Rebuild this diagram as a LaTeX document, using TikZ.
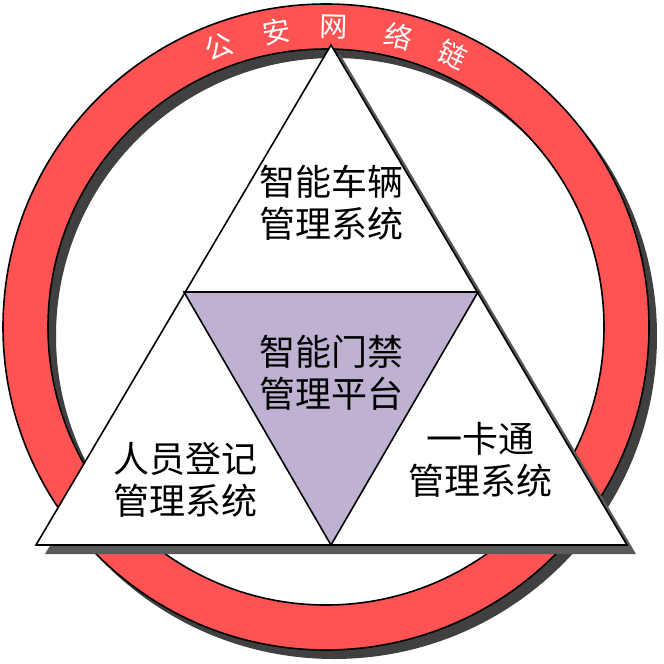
\documentclass[tikz,border=0pt]{standalone}
\usepackage{fontspec}
\newfontfamily\cjk{Noto Sans CJK SC}
\usetikzlibrary{calc}
\definecolor{ringRed}{HTML}{FF5252}
\definecolor{ringShd}{HTML}{404040}
\definecolor{triShd}{HTML}{5A5A5A}
\definecolor{hubLav}{HTML}{BFB1D1}
\tikzset{
  % red outer ring and its drop shadow
  ring/.style={fill=ringRed, draw=black, line width=1.6pt, even odd rule},
  ringshadow/.style={fill=ringShd, even odd rule},
  % big triangle, its shadow and the central hub
  tri/.style={fill=white, draw=black, line width=1.6pt, line join=miter},
  trishadow/.style={fill=triShd},
  hub/.style={fill=hubLav, draw=black, line width=1.6pt, line join=miter},
  % texts
  lbl/.style={font=\cjk\fontsize{36}{42}\selectfont, align=center, inner sep=0pt},
  arctxt/.style={font=\cjk\fontsize{28}{28}\selectfont, text=white, inner sep=0pt},
}

\begin{document}
\begin{tikzpicture}[x=1pt, y=-1pt]
\useasboundingbox (0,0) rectangle (664,664);

% =====================================================================
% RING  (shadow first, then the red band)
% =====================================================================
\coordinate (ctr) at (326,327);
\coordinate (ctrS) at (334,336);

\path[ringshadow] (ctrS) circle[radius=323pt] (ctrS) circle[radius=278pt];
\path[ring] (ctr) circle[radius=323pt] (ctr) circle[radius=278pt];

% =====================================================================
% TRIANGLE  (outer white, inner lavender hub)
% =====================================================================
\coordinate (apex) at (331,45);
\coordinate (botL) at (36,545);
\coordinate (botR) at (627,545);
\coordinate (midL) at (184,292);
\coordinate (midR) at (478,292);
\coordinate (midB) at (331,545);

\path[trishadow] ($(apex)+(9,9)$) -- ($(botR)+(9,9)$) -- ($(botL)+(9,9)$) -- cycle;
\path[tri] (apex) -- (botR) -- (botL) -- cycle;
\path[hub] (midL) -- (midR) -- (midB) -- cycle;

% ── labels ──────────────────────────────────────────────────────────
\node[lbl] (car)  at (331,203) {智能车辆\\管理系统};
\node[lbl] (door) at (331,373) {智能门禁\\管理平台};
\node[lbl] (reg)  at (185,480) {人员登记\\管理系统};
\node[lbl] (card) at (480,460) {一卡通\\管理系统};

% ── text along the ring ─────────────────────────────────────────────
\foreach \ch/\ang [count=\i] in {公/111, 安/99.5, 网/88.5, 络/76, 链/65}
  \node[arctxt, rotate={\ang-90}] (arc\i) at ($(ctr)+(\ang:300pt)$) {\ch};

\end{tikzpicture}
\end{document}
